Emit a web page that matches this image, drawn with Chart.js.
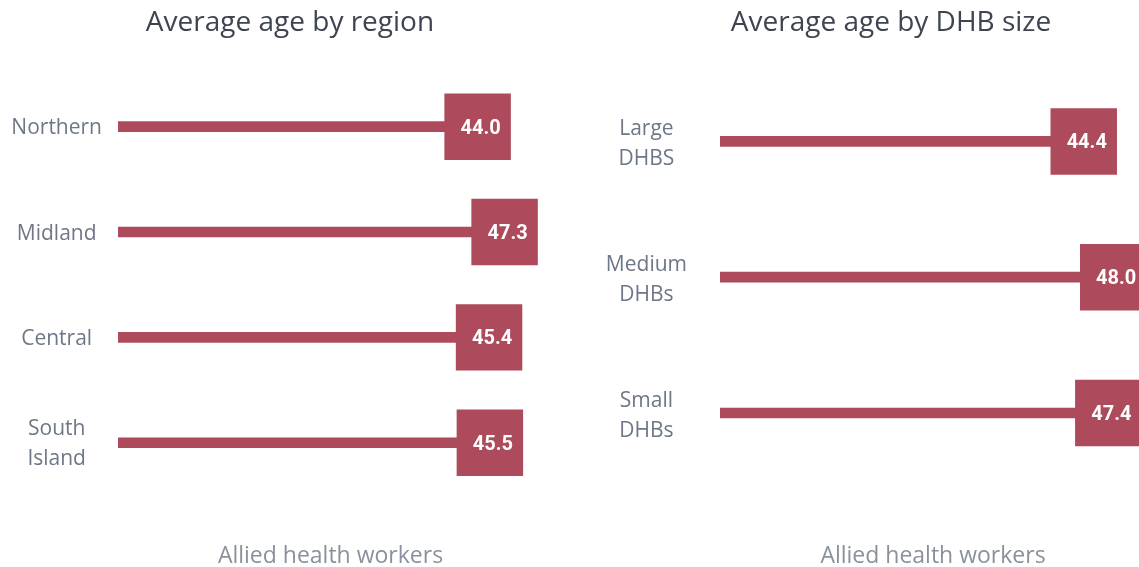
<!DOCTYPE html>
<html>
<head>
<meta charset="utf-8">
<script src="https://cdn.jsdelivr.net/npm/chart.js@4/dist/chart.umd.min.js"></script>
<style>
	html, body { margin: 0; padding: 0; background: #fff; overflow: hidden; width: 1139px; height: 567px; }
	.box { position: absolute; top: 0; }
</style>
</head>
<body>
<div class="box" style="left:0px;"><canvas id="regionChart" width="580" height="567"></canvas></div>
<div class="box" style="left:600px;"><canvas id="dhbChart" width="582" height="567"></canvas></div>
<script>
// 데이터
const regionLabels = ['Northern', 'Midland', 'Central', ['South', 'Island']];
const regionAges = [44.0, 47.3, 45.4, 45.5];
const dhbLabels = [['Large', 'DHBS'], ['Medium', 'DHBs'], ['Small', 'DHBs']];
const dhbAges = [44.4, 48.0, 47.4];
const xTitle = 'Allied health workers';

const barColor = '#ad4a5b';

// 네모 마커 안에 값 쓰기
const valueLabelPlugin = {
	id: 'valueLabel',
	afterDatasetsDraw(chart) {
		const ctx = chart.ctx;
		const meta = chart.getDatasetMeta(1);
		const data = chart.data.datasets[1].data;
		ctx.save();
		ctx.fillStyle = '#ffffff';
		ctx.font = 'bold 20px Roboto, "Liberation Sans", sans-serif';
		ctx.textAlign = 'center';
		ctx.textBaseline = 'middle';
		meta.data.forEach((pt, i) => {
			ctx.fillText(data[i].toFixed(1), pt.x + 3, pt.y + 2);
		});
		ctx.restore();
	}
};

// 제목 (캔버스 기준 x 위치에 직접)
const topTitlePlugin = {
	id: 'topTitle',
	afterDraw(chart, args, opts) {
		const ctx = chart.ctx;
		ctx.save();
		ctx.fillStyle = '#3e4550';
		ctx.font = '28px "Open Sans", sans-serif';
		ctx.textAlign = 'center';
		ctx.textBaseline = 'middle';
		ctx.fillText(opts.text, opts.x, 23);
		ctx.restore();
	}
};

function makeChart(id, title, labels, values, cfg) {
	return new Chart(document.getElementById(id), {
		type: 'bar',
		data: {
			labels: labels,
			datasets: [{
				data: values,
				backgroundColor: barColor,
				barThickness: 10,
				order: 2
			}, {
				type: 'line',
				data: values,
				indexAxis: 'y',
				showLine: false,
				pointStyle: 'rect',
				pointRadius: 47,
				pointHoverRadius: 47,
				pointBackgroundColor: barColor,
				pointBorderWidth: 0,
				clip: false,
				order: 1
			}]
		},
		options: {
			indexAxis: 'y',
			responsive: false,
			animation: false,
			// 점 반지름 때문에 자동 여백 생기는 것 끔
			layout: { autoPadding: false, padding: { left: 0, right: cfg.right, top: cfg.top, bottom: 0 } },
			plugins: {
				legend: { display: false },
				tooltip: { enabled: false },
				title: { display: false },
				topTitle: { text: title, x: cfg.titleX }
			},
			scales: {
				x: {
					min: 0,
					max: 52,
					grid: { display: false, drawTicks: false },
					border: { display: false },
					ticks: { display: false },
					title: {
						display: true,
						text: xTitle,
						color: '#8a919d',
						font: { family: '"Open Sans", sans-serif', size: 23 },
						padding: { top: cfg.xTitleTop, bottom: -3 }
					}
				},
				y: {
					grid: { display: false, drawTicks: false },
					border: { display: false },
					afterFit: (s) => { s.width = cfg.axisW; },
					ticks: {
						color: '#6e7787',
						crossAlign: 'center',
						padding: cfg.tickPad,
						labelOffset: cfg.labelOffset,
						font: { family: '"Open Sans", sans-serif', size: 21, lineHeight: 1.43 }
					}
				}
			}
		},
		plugins: [valueLabelPlugin, topTitlePlugin]
	});
}

makeChart('regionChart', 'Average age by region', regionLabels, regionAges,
	{ axisW: 118, tickPad: 16, top: 74, right: 37, xTitleTop: 47, titleX: 290, labelOffset: 1.5 });
makeChart('dhbChart', 'Average age by DHB size', dhbLabels, dhbAges,
	{ axisW: 120, tickPad: 33, top: 73.5, right: 36, xTitleTop: 61.5, titleX: 291, labelOffset: 3 });
</script>
</body>
</html>
